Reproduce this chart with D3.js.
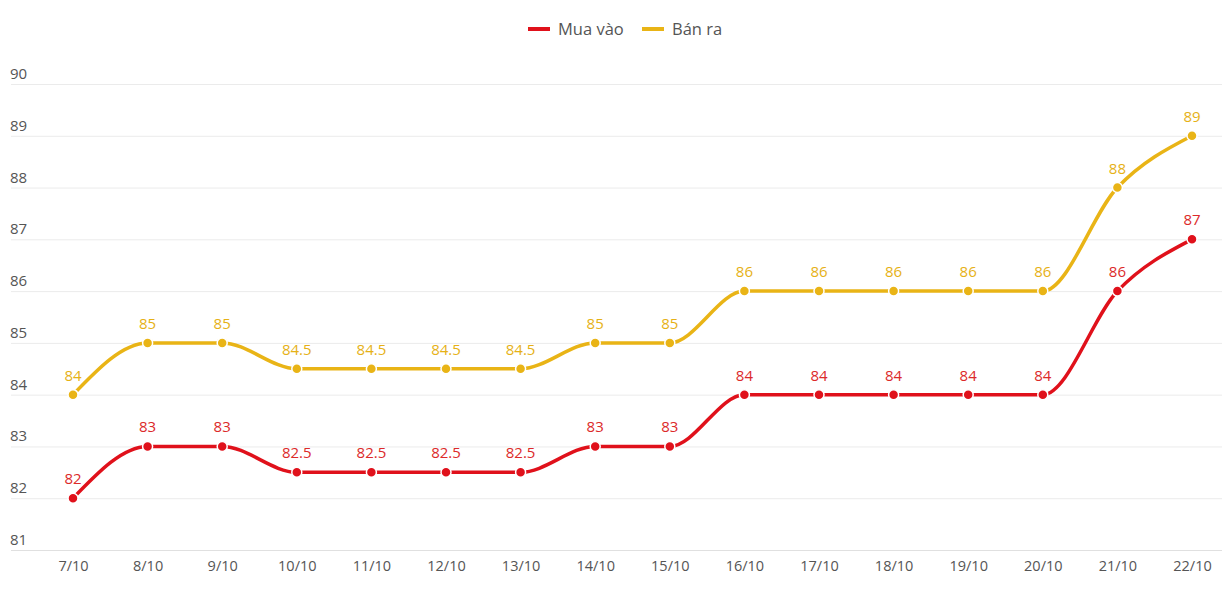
<!DOCTYPE html>
<html><head><meta charset="utf-8">
<script src="https://cdn.jsdelivr.net/npm/d3@7/dist/d3.min.js"></script>
<style>body{margin:0;background:#fff;}svg{display:block;font-family:"Open Sans",sans-serif;}</style>
</head><body>
<svg id="c" width="1223" height="597"></svg>
<script>
const categories = ["7/10","8/10","9/10","10/10","11/10","12/10","13/10","14/10","15/10","16/10","17/10","18/10","19/10","20/10","21/10","22/10"];
const muaVao = [82,83,83,82.5,82.5,82.5,82.5,83,83,84,84,84,84,84,86,87];
const banRa = [84,85,85,84.5,84.5,84.5,84.5,85,85,86,86,86,86,86,88,89];
const yTicks = [81,82,83,84,85,86,87,88,89,90];
const seriesNames = ["Mua vào","Bán ra"];
const colors = ["#e0111b","#e9b416"];
const labelColors = ["#dc2a2a","#e6b116"];

const svg = d3.select("#c");
const x = d3.scalePoint().domain(categories).range([73,1192]);
const y = d3.scaleLinear().domain([81,90]).range([550,84]);

// grid
const g = svg.append("g");
g.selectAll("line.grid").data(yTicks).join("line")
  .attr("x1",11).attr("x2",1222)
  .attr("y1",d=>y(d)+0.5).attr("y2",d=>y(d)+0.5)
  .attr("stroke",d=>d===81?"#e0e0e0":"#ebebeb").attr("stroke-width",1);
g.selectAll("text.yl").data(yTicks).join("text")
  .attr("x",10).attr("y",d=>y(d)-5)
  .attr("font-size",15).attr("fill","#555").text(d=>d);

// x axis labels
const xAxis = d3.axisBottom(x).tickSize(0).tickPadding(0);
const xa = svg.append("g").attr("transform","translate(0,571)").call(xAxis);
xa.select(".domain").remove();
xa.selectAll("text").attr("font-size",14.5).attr("fill","#555").attr("font-family","Open Sans, sans-serif").attr("dy",0);

const line = d3.line().x((d,i)=>x(categories[i])).y(d=>y(d)).curve(d3.curveMonotoneX);
const series = [muaVao, banRa];
series.forEach((s,k)=>{
  svg.append("path").datum(s).attr("d",line).attr("fill","none")
    .attr("stroke",colors[k]).attr("stroke-width",3.5);
});
series.forEach((s,k)=>{
  svg.append("g").selectAll("circle").data(s).join("circle")
    .attr("cx",(d,i)=>x(categories[i])).attr("cy",d=>y(d)).attr("r",5)
    .attr("fill",colors[k]).attr("stroke","#fff").attr("stroke-width",1.5);
  svg.append("g").selectAll("text").data(s).join("text")
    .attr("x",(d,i)=>x(categories[i])).attr("y",d=>y(d)-14)
    .attr("text-anchor","middle").attr("font-size",15).attr("fill",labelColors[k])
    .text(d=>d);
});

// legend
const lg = svg.append("g");
const lx = [528, 642];
seriesNames.forEach((n,k)=>{
  lg.append("line").attr("x1",lx[k]).attr("x2",lx[k]+22).attr("y1",29).attr("y2",29)
    .attr("stroke",colors[k]).attr("stroke-width",4);
  lg.append("text").attr("x",lx[k]+30).attr("y",35).attr("font-size",16.5)
    .attr("fill","#555").text(n);
});
</script>
</body></html>
